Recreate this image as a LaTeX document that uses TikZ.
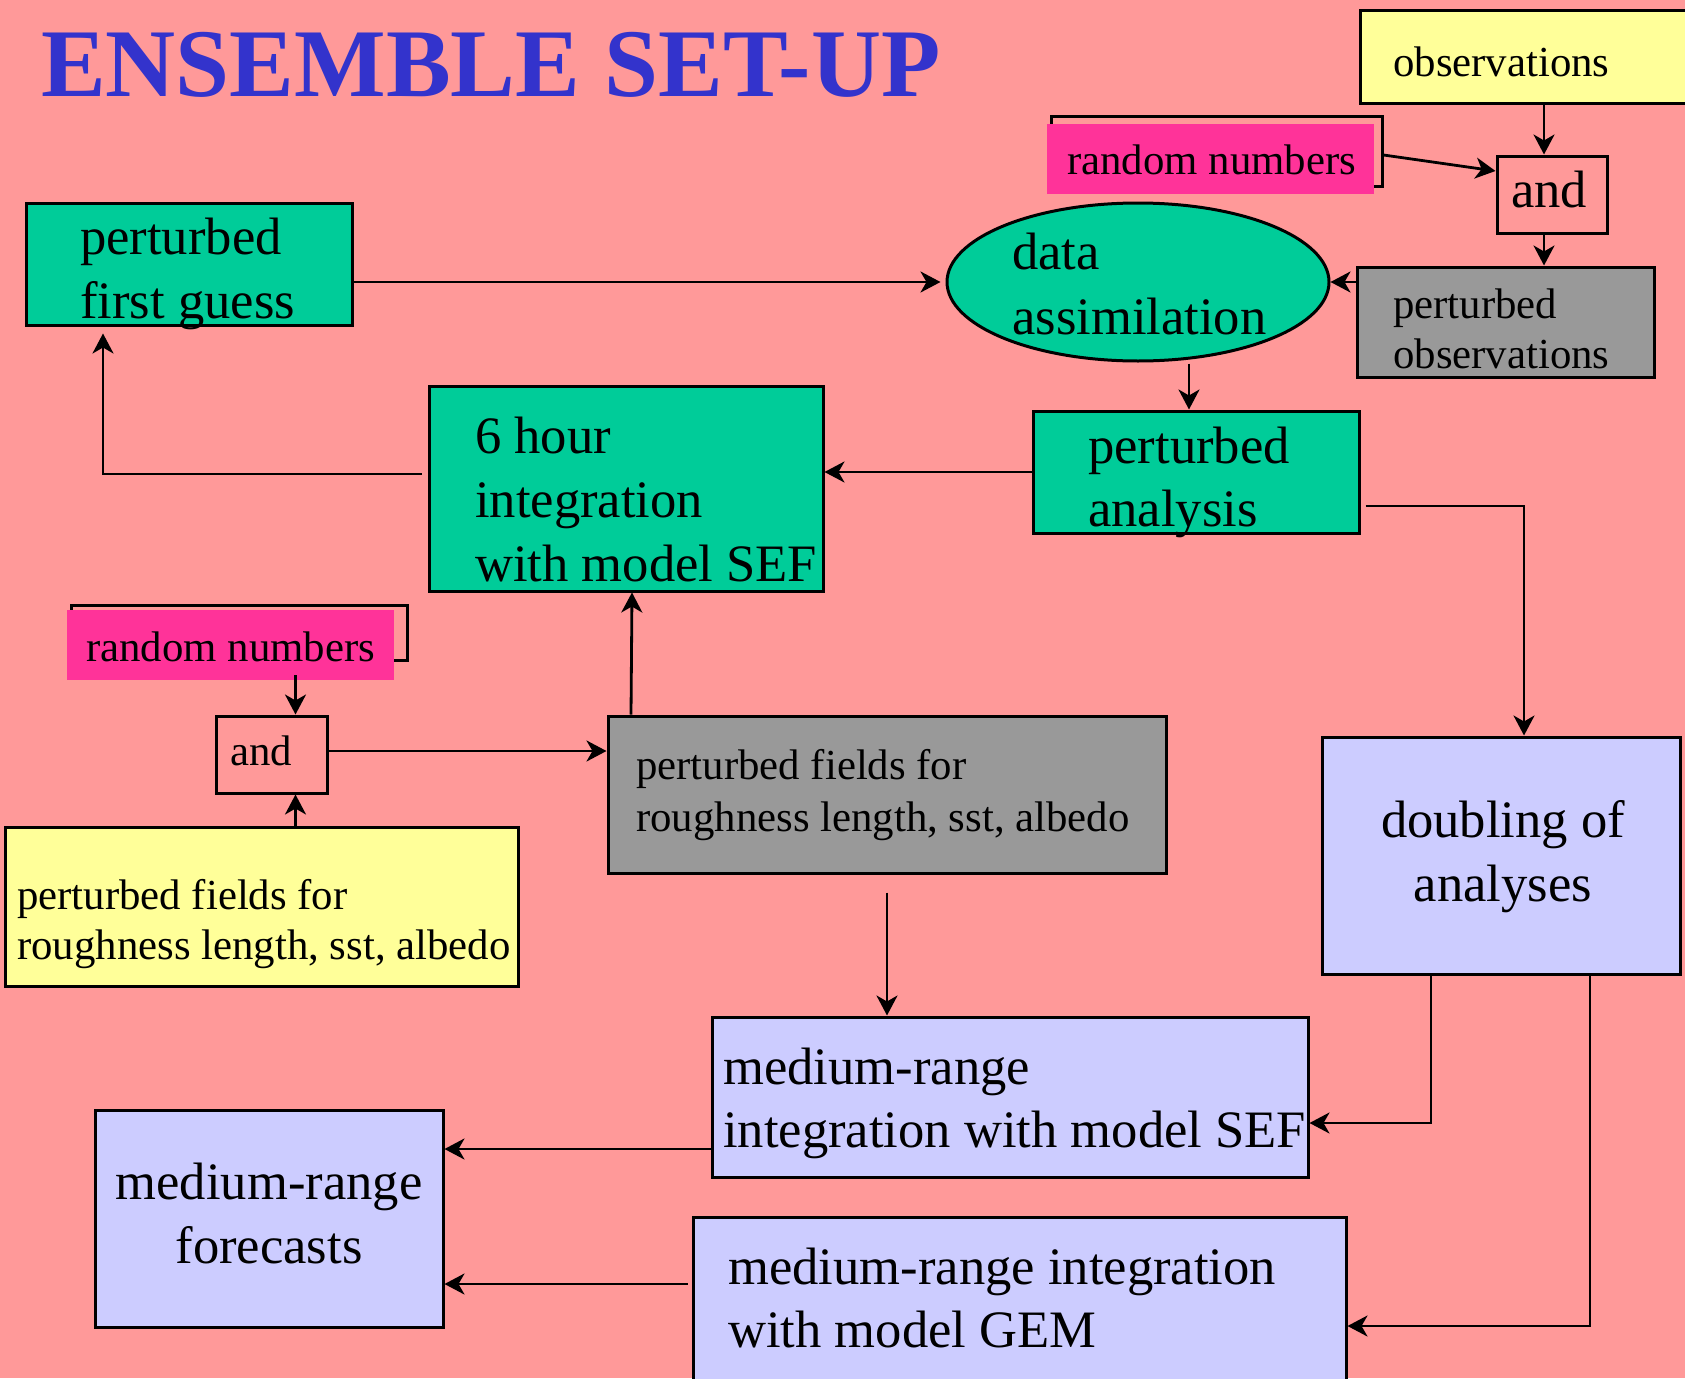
\documentclass[tikz,border=0pt]{standalone}
\usepackage{fontspec}
\setmainfont{Liberation Serif}
\usetikzlibrary{arrows.meta,shapes.geometric}
\definecolor{bgpink}{HTML}{FF9999}
\definecolor{teal}{HTML}{00CC99}
\definecolor{greybox}{HTML}{999999}
\definecolor{yellowbox}{HTML}{FFFF99}
\definecolor{lavender}{HTML}{CCCCFF}
\definecolor{hotpink}{HTML}{FF3399}
\definecolor{titleblue}{HTML}{3333CC}
\newcommand\TL[2]{\vtop{\baselineskip=#1\relax\lineskiplimit=-1000pt\lineskip=0pt\halign{##\hfil\cr#2\crcr}}}
\newcommand\TC[2]{\vtop{\baselineskip=#1\relax\lineskiplimit=-1000pt\lineskip=0pt\halign{\hfil##\hfil\cr#2\crcr}}}
\tikzset{
  box/.style={draw, line width=3pt, inner sep=0pt},
  arr/.style={draw, line width=2.8pt, -{Stealth[length=20pt,width=21pt,inset=6pt]}},
  big/.style={inner sep=0pt, font=\fontsize{52.6}{64}\selectfont},
  small/.style={inner sep=0pt, font=\fontsize{42.8}{50}\selectfont},
}
\begin{document}
\begin{tikzpicture}[x=1pt,y=-1pt]
\useasboundingbox (0,0) rectangle (1685,1378);
\fill[bgpink] (0,0) rectangle (1685,1378);

% title
\node[anchor=base west, inner sep=0pt, text=titleblue] (title) at (41,97)
  {\fontsize{97}{100}\selectfont\bfseries ENSEMBLE SET-UP};

% boxes
\node[box, fill=yellowbox, minimum width=340pt, minimum height=93pt] (obs) at (1530,57.5) {};
\node[box, minimum width=331pt, minimum height=69pt] (rn1o) at (1216.5,151.5) {};
\node[fill=hotpink, inner sep=0pt, minimum width=327pt, minimum height=70pt] (rn1) at (1210.5,159) {};
\node[box, minimum width=110pt, minimum height=77pt] (and1) at (1552,194.5) {};
\node[box, fill=greybox, minimum width=297pt, minimum height=110pt] (pobs) at (1505.5,322) {};
\node[box, fill=teal, minimum width=326pt, minimum height=122pt] (fg) at (189,264) {};
\node[box, ellipse, fill=teal, minimum width=382pt, minimum height=158pt] (da) at (1138,282) {};
\node[box, fill=teal, minimum width=326pt, minimum height=122pt] (pa) at (1196,472) {};
\node[box, fill=teal, minimum width=394pt, minimum height=205pt] (six) at (626,488.5) {};
\node[box, minimum width=336pt, minimum height=55pt] (rn2o) at (239,632.5) {};
\node[fill=hotpink, inner sep=0pt, minimum width=327pt, minimum height=70pt] (rn2) at (230.5,645) {};
\node[box, minimum width=111pt, minimum height=77pt] (and2) at (271.5,754.5) {};
\node[box, fill=yellowbox, minimum width=513pt, minimum height=159pt] (yf) at (261.5,906.5) {};
\node[box, fill=greybox, minimum width=558pt, minimum height=157pt] (gf) at (887,794.5) {};
\node[box, fill=lavender, minimum width=358pt, minimum height=237pt] (dbl) at (1501,855.5) {};
\node[box, fill=lavender, minimum width=596pt, minimum height=160pt] (sef) at (1010,1097) {};
\node[box, fill=lavender, minimum width=653pt, minimum height=173pt] (gem) at (1019.5,1303.5) {};
\node[box, fill=lavender, minimum width=348pt, minimum height=217pt] (fc) at (269,1218.5) {};

% texts
\node[small, anchor=base west] (obst) at (1393,77) {observations};
\node[small, anchor=base west] (rn1t) at (1067,174) {random numbers};
\node[big, anchor=base west] (and1t) at (1511,207) {and};
\node[small, anchor=base west] (pobst) at (1393,318) {\TL{50pt}{perturbed\cr observations}};
\node[big, anchor=base west] (fgt) at (80,254) {\TL{64pt}{perturbed\cr first guess}};
\node[big, anchor=base west] (dat) at (1012,269) {\TL{65pt}{data\cr assimilation}};
\node[big, anchor=base west] (pat) at (1088,463) {\TL{63pt}{perturbed\cr analysis}};
\node[big, anchor=base west] (sixt) at (475,453) {\TL{64pt}{6 hour\cr integration\cr with model SEF}};
\node[small, anchor=base west] (rn2t) at (86,661) {random numbers};
\node[small, anchor=base west] (and2t) at (230,765) {and};
\node[small, anchor=base west] (yft) at (17,909) {\TL{50pt}{perturbed fields for\cr roughness length, sst, albedo}};
\node[small, anchor=base west] (gft) at (636,779) {\TL{52pt}{perturbed fields for\cr roughness length, sst, albedo}};
\node[big, anchor=base] (dblt) at (1503,837) {\TC{64pt}{doubling of\cr analyses}};
\node[big, anchor=base west] (seft) at (723,1084) {\TL{63pt}{medium-range\cr integration with model SEF}};
\node[big, anchor=base west] (gemt) at (728,1284) {\TL{63pt}{medium-range integration\cr with model GEM}};
\node[big, anchor=base] (fct) at (269,1199) {\TC{64pt}{medium-range\cr forecasts}};

% connectors
\coordinate (a1x) at ([xshift=-8pt]and1.north);
\draw[arr] (a1x |- obs.south) -- (a1x);
\draw[arr] ([yshift=-3.5pt]rn1o.east) -- ([yshift=23.5pt]and1.west);
\coordinate (a1s) at ([xshift=-8pt]and1.south);
\draw[arr] (a1s) -- (a1s |- pobs.north);
\draw[arr] (da.east -| pobs.west) -- (da.east);
\draw[arr, shorten >=5pt] (fg.east |- da.west) -- (da.west);
\coordinate (dapa) at ([xshift=-7pt]pa.north);
\draw[arr] ([yshift=-1pt]dapa |- da.south) -- (dapa);
\draw[arr] (pa.west) -- (pa.west -| six.east);
\coordinate (sixl) at ([xshift=-6pt,yshift=14.5pt]six.west);
\draw[arr] (sixl) -| ([xshift=-86pt,yshift=-7pt]fg.south);
\draw[arr] ([xshift=5pt,yshift=-34pt]pa.east) -| ([xshift=23pt]dbl.north);
\coordinate (a2n) at ([xshift=24pt]and2.north);
\coordinate (a2s) at ([xshift=24pt]and2.south);
\draw[arr] ([yshift=5pt]a2n |- rn2.south) -- (a2n);
\draw[arr] (a2s |- yf.north) -- (a2s);
\coordinate (a2e) at ([yshift=3.5pt]and2.east);
\draw[arr] (a2e) -- (a2e -| gf.west);
\draw[arr] ([xshift=-256pt]gf.north) -- ([xshift=6pt]six.south);
\draw[arr] ([yshift=-18pt]gf.south) -- (gf.south |- sef.north);
\draw[arr] ([xshift=-70pt]dbl.south) |- ([yshift=-26pt]sef.east);
\draw[arr] ([xshift=89pt]dbl.south) |- ([yshift=-22.5pt]gem.east);
\coordinate (s1) at ([yshift=-52pt]sef.west);
\draw[arr] (s1) -- (s1 -| fc.east);
\coordinate (g1) at ([xshift=-4pt,yshift=19.5pt]gem.west);
\draw[arr] (g1) -- (g1 -| fc.east);
\end{tikzpicture}
\end{document}
